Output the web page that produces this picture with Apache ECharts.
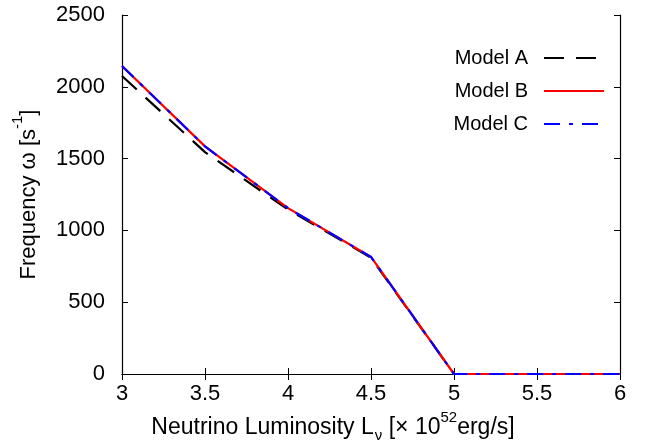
<!DOCTYPE html>
<html><head><meta charset="utf-8">
<script src="https://cdn.jsdelivr.net/npm/echarts@6/dist/echarts.min.js"></script>
<style>html,body{margin:0;padding:0;background:#fff}#c{width:649px;height:443px}</style>
</head><body><div id="c"></div>
<script>
var luminosity = [3, 3.5, 4, 4.5, 5, 5.5, 6];
var modelA = [2075, 1545, 1145, 810, 0, 0, 0];
var modelB = [2145, 1585, 1155, 815, 0, 0, 0];
var modelC = [2145, 1585, 1155, 815, 0, 0, 0];
var xTicks = [3, 3.5, 4, 4.5, 5, 5.5, 6];
var yTicks = [0, 500, 1000, 1500, 2000, 2500];

function pairs(xs, ys){ return xs.map(function(x,i){ return [x, ys[i]]; }); }
var FONT = 'Liberation Sans';
var chart = echarts.init(document.getElementById('c'), null, {renderer:'canvas'});
var axisLine = {show:true, lineStyle:{color:'#000', width:1.2}};
var tick = {show:true, inside:true, length:6, lineStyle:{color:'#000', width:1}};
chart.setOption({
  animation:false,
  backgroundColor:'#fff',
  textStyle:{fontFamily:FONT},
  grid:{left:122, right:29, top:15, bottom:69, containLabel:false, outerBoundsMode:'none'},
  legend:{
    orient:'vertical', right:39, top:43, align:'right',
    itemWidth:60, itemHeight:14, itemGap:13,
    itemStyle:{opacity:0},
    textStyle:{fontFamily:FONT, fontSize:20, color:'#000', padding:[0,11,0,0]},
    data:['Model A','Model B','Model C']
  },
  xAxis:[{
    type:'value', min:xTicks[0], max:xTicks[xTicks.length-1], interval:0.5,
    axisLine:axisLine, axisTick:tick, splitLine:{show:false},
    axisLabel:{color:'#000', fontSize:22, fontFamily:FONT, margin:9},
    name:'{n|Neutrino Luminosity L}{sub|ν}{n| [× 10}{sup|52}{n|erg/s]}',
    nameLocation:'middle', nameGap:38,
    nameTextStyle:{color:'#000', fontFamily:FONT, padding:[0,76,0,0], rich:{
      n:{fontSize:23, fontFamily:FONT, color:'#000', lineHeight:26},
      sub:{fontSize:15, fontFamily:FONT, color:'#000', verticalAlign:'bottom', lineHeight:15, padding:[0,0,-2,1]},
      sup:{fontSize:15, fontFamily:FONT, color:'#000', verticalAlign:'top', lineHeight:15, padding:[-5,0,0,0]}
    }}
  },{
    type:'value', position:'top', min:xTicks[0], max:xTicks[xTicks.length-1], interval:0.5,
    axisLine:axisLine, axisTick:tick, axisLabel:{show:false}, splitLine:{show:false}
  }],
  yAxis:[{
    type:'value', min:yTicks[0], max:yTicks[yTicks.length-1], interval:500,
    axisLine:axisLine, axisTick:tick, splitLine:{show:false},
    axisLabel:{color:'#000', fontSize:22, fontFamily:FONT, margin:17, formatter:function(v){return String(v);}},
    name:'{n|Frequency ω [s}{sup|-1}{n|]}',
    nameLocation:'middle', nameGap:80, nameRotate:90,
    nameTextStyle:{color:'#000', fontFamily:FONT, rich:{
      n:{fontSize:22, fontFamily:FONT, color:'#000', lineHeight:26},
      sup:{fontSize:15, fontFamily:FONT, color:'#000', verticalAlign:'top', lineHeight:15, padding:[-6,0,0,0]}
    }}
  },{
    type:'value', position:'right', min:yTicks[0], max:yTicks[yTicks.length-1], interval:500,
    axisLine:axisLine, axisTick:tick, axisLabel:{show:false}, splitLine:{show:false}
  }],
  series:[
    {name:'Model A', type:'line', data:pairs(luminosity, modelA), showSymbol:false, symbol:'none',
     lineStyle:{color:'#000', width:2.2, type:[20,12]}, itemStyle:{color:'#000'}},
    {name:'Model B', type:'line', data:pairs(luminosity, modelB), showSymbol:false, symbol:'none',
     lineStyle:{color:'#ff0000', width:2.2, type:'solid'}, itemStyle:{color:'#ff0000'}},
    {name:'Model C', type:'line', data:pairs(luminosity, modelC), showSymbol:false, symbol:'none',
     lineStyle:{color:'#0000ff', width:2.2, type:[16,9,4,9]}, itemStyle:{color:'#0000ff'}}
  ]
});
</script></body></html>
